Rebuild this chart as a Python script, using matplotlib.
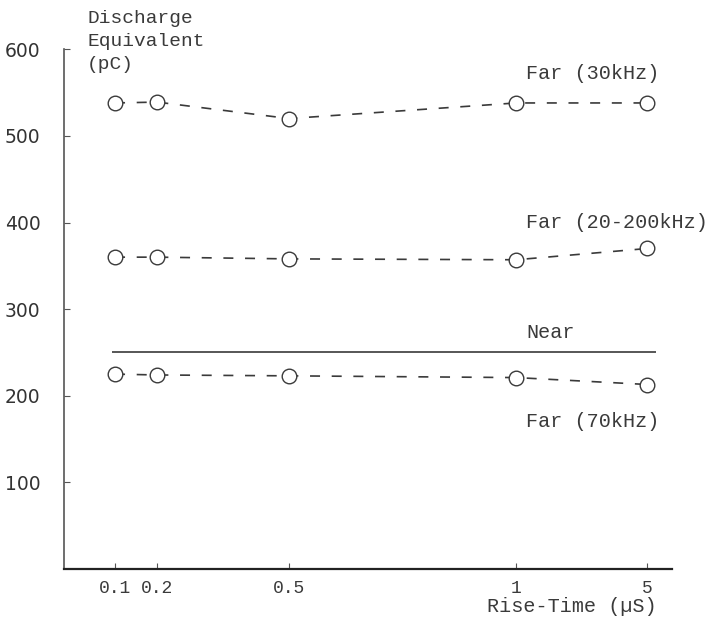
import matplotlib
matplotlib.use("Agg")
import matplotlib.pyplot as plt

# rise-time categories and where they sit along the hand-drawn axis
rise_labels = ['0.1', '0.2', '0.5', '1', '5']
rise_pos = [115, 157, 289, 516, 647]

far_30k = [538, 539, 520, 538, 538]
far_20_200k = [360, 360, 358, 357, 370]
far_70k = [225, 224, 223, 221, 213]
near_level = 250

y_ticks = [100, 200, 300, 400, 500, 600]

mono = 'Liberation Mono'
ink = '#3a3a3a'

fig = plt.figure(figsize=(7.13, 6.21), dpi=100)
ax = fig.add_axes([0.0898, 0.0837, 0.853, 0.837])

dash_style = dict(color=ink, lw=1.2, dashes=(6, 7), marker='o', ms=10.5,
                  mfc='white', mec=ink, mew=1.0)
ax.plot(rise_pos, far_30k, **dash_style)
ax.plot(rise_pos, far_20_200k, **dash_style)
ax.plot(rise_pos, far_70k, **dash_style)
ax.hlines(near_level, rise_pos[0] - 3, rise_pos[-1] + 9, color=ink, lw=1.2)

ax.set_xlim(64, 672)
ax.set_ylim(0, 600)

for side in ['top', 'right']:
    ax.spines[side].set_visible(False)
ax.spines['left'].set_color('#555555')
ax.spines['left'].set_linewidth(1.2)
ax.spines['bottom'].set_color('#222222')
ax.spines['bottom'].set_linewidth(1.6)

ax.set_yticks(y_ticks)
ax.set_yticklabels([str(v) for v in y_ticks], fontsize=13.5, color='#333333')
ax.tick_params(axis='y', direction='in', length=4, pad=17, color='#555555')

ax.set_xticks(rise_pos)
ax.set_xticklabels(rise_labels, family=mono, fontsize=13, color=ink)
ax.tick_params(axis='x', direction='in', length=4, pad=8, color='#555555')

# series labels, typewriter style
txt = dict(family=mono, fontsize=14.5, color=ink, va='center', ha='left')
ax.text(526, 572, 'Far (30kHz)', **txt)
ax.text(526, 400, 'Far (20-200kHz)', clip_on=False, **txt)
ax.text(526, 273, 'Near', **txt)
ax.text(526, 170, 'Far (70kHz)', **txt)

ax.text(87, 645, 'Discharge\nEquivalent\n(pC)', family=mono, fontsize=14,
        color=ink, va='top', ha='left', linespacing=1.45, clip_on=False)
ax.text(487, -43, 'Rise-Time (\u00b5S)', family=mono, fontsize=14.5, color=ink,
        va='center', ha='left', clip_on=False)

fig.savefig('out.png', dpi=100)
